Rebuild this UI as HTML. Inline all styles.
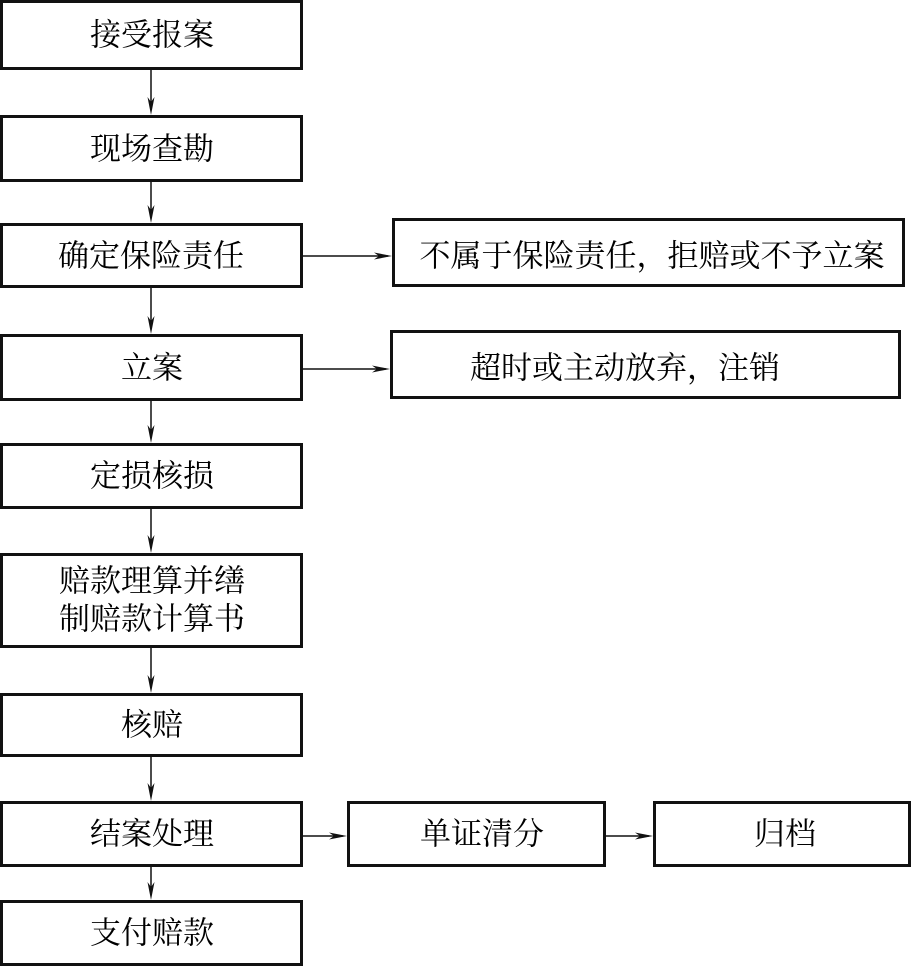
<!DOCTYPE html>
<html>
<head>
<meta charset="utf-8">
<style>
  html,body{margin:0;padding:0;background:#fff;}
  svg{display:block;}
  text{font-family:"Liberation Serif","Noto Serif CJK SC",serif;font-size:31px;fill:#000;}
</style>
</head>
<body>
<svg width="912" height="967" viewBox="0 0 912 967" xmlns="http://www.w3.org/2000/svg">
  <g fill="#fff" stroke="#111" stroke-width="3">
    <rect x="1.5" y="1.5" width="300" height="67"/>
    <rect x="1.5" y="116.5" width="300" height="64"/>
    <rect x="1.5" y="224.5" width="300" height="62"/>
    <rect x="1.5" y="335.5" width="300" height="64"/>
    <rect x="1.5" y="444.5" width="300" height="63"/>
    <rect x="1.5" y="554.5" width="300" height="92"/>
    <rect x="1.5" y="694.5" width="300" height="61"/>
    <rect x="1.5" y="802.5" width="300" height="63"/>
    <rect x="1.5" y="901.5" width="300" height="63"/>
    <rect x="393.5" y="219.5" width="510" height="66"/>
    <rect x="391.5" y="331.5" width="508" height="66"/>
    <rect x="348.5" y="802.5" width="256" height="63"/>
    <rect x="654.5" y="802.5" width="255" height="63"/>
  </g>
  <g stroke="#111" stroke-width="1.5" fill="none">
    <line x1="151" y1="70" x2="151" y2="110"/>
    <line x1="151" y1="182" x2="151" y2="218"/>
    <line x1="151" y1="288" x2="151" y2="329"/>
    <line x1="151" y1="401" x2="151" y2="438"/>
    <line x1="151" y1="509" x2="151" y2="548"/>
    <line x1="151" y1="648" x2="151" y2="688"/>
    <line x1="151" y1="757" x2="151" y2="796"/>
    <line x1="151" y1="867" x2="151" y2="895"/>
    <line x1="303" y1="256" x2="388" y2="256"/>
    <line x1="303" y1="369" x2="386" y2="369"/>
    <line x1="303" y1="836" x2="343" y2="836"/>
    <line x1="606" y1="836" x2="649" y2="836"/>
  </g>
  <g fill="#111">
    <path d="M151 115 L147.5 97 L151 102 L154.5 97 Z"/>
    <path d="M151 223 L147.5 205 L151 210 L154.5 205 Z"/>
    <path d="M151 334 L147.5 316 L151 321 L154.5 316 Z"/>
    <path d="M151 443 L147.5 425 L151 430 L154.5 425 Z"/>
    <path d="M151 553 L147.5 535 L151 540 L154.5 535 Z"/>
    <path d="M151 693 L147.5 675 L151 680 L154.5 675 Z"/>
    <path d="M151 801 L147.5 783 L151 788 L154.5 783 Z"/>
    <path d="M151 900 L147.5 882 L151 887 L154.5 882 Z"/>
    <path d="M392 256 L374 252.5 L379 256 L374 259.5 Z"/>
    <path d="M390 369 L372 365.5 L377 369 L372 372.5 Z"/>
    <path d="M347 836 L329 832.5 L334 836 L329 839.5 Z"/>
    <path d="M653 836 L635 832.5 L640 836 L635 839.5 Z"/>
  </g>
  <g text-anchor="middle" dominant-baseline="central">
    <text x="152" y="35">接受报案</text>
    <text x="152" y="149">现场查勘</text>
    <text x="151" y="256">确定保险责任</text>
    <text x="152" y="368">立案</text>
    <text x="152" y="476">定损核损</text>
    <text x="152" y="581">赔款理算并缮</text>
    <text x="152" y="619">制赔款计算书</text>
    <text x="152" y="725">核赔</text>
    <text x="152" y="834">结案处理</text>
    <text x="152" y="933">支付赔款</text>
    <text x="652" y="256">不属于保险责任，拒赔或不予立案</text>
    <text x="482" y="834">单证清分</text>
    <text x="785" y="834">归档</text>
  </g>
  <text x="470" y="368" dominant-baseline="central">超时或主动放弃，注销</text>
</svg>
</body>
</html>
